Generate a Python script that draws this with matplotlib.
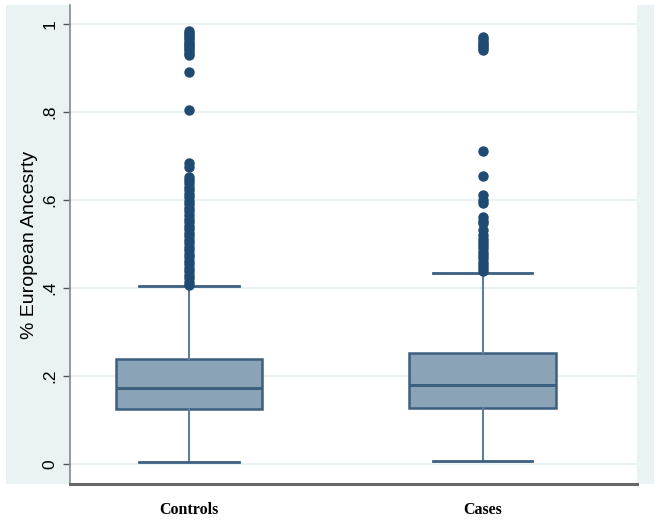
import matplotlib
matplotlib.use("Agg")
import matplotlib.pyplot as plt
from matplotlib.patches import Rectangle

# groups
groups = ["Controls", "Cases"]

# box summaries
q1 = [0.126, 0.127]
med = [0.173, 0.180]
q3 = [0.238, 0.253]
lo_whisk = [0.005, 0.007]
hi_whisk = [0.405, 0.435]

# outside values
fliers_controls = [0.985, 0.98, 0.975, 0.97, 0.965, 0.96, 0.955, 0.95, 0.945,
                   0.94, 0.935, 0.93, 0.89, 0.805, 0.684, 0.676, 0.652, 0.645,
                   0.638, 0.63, 0.622, 0.614, 0.606, 0.598, 0.59, 0.582, 0.574,
                   0.566, 0.558, 0.55, 0.542, 0.534, 0.526, 0.518, 0.51, 0.502,
                   0.494, 0.486, 0.478, 0.47, 0.462, 0.454, 0.446, 0.438, 0.43,
                   0.422, 0.414, 0.408]
fliers_cases = [0.97, 0.965, 0.96, 0.955, 0.95, 0.945, 0.94, 0.712, 0.655,
                0.611, 0.6, 0.593, 0.562, 0.553, 0.547, 0.532, 0.52, 0.512,
                0.505, 0.498, 0.49, 0.482, 0.475, 0.468, 0.46, 0.452, 0.445,
                0.438]
fliers = [fliers_controls, fliers_cases]

yticks = [0, 0.2, 0.4, 0.6, 0.8, 1.0]
ytick_labels = ["0", ".2", ".4", ".6", ".8", "1"]

navy = "#1f4a73"
box_edge = "#3d5f80"
box_fill = "#8ba3b7"
whisk_col = "#5d7e9a"
band = "#eaf2f3"

fig = plt.figure(figsize=(6.62, 5.2), dpi=100)
fig.patch.set_facecolor("white")
# light band behind the plot region (graph region)
fig.patches.append(Rectangle((6 / 662, 36 / 520), 648 / 662, 479 / 520,
                             transform=fig.transFigure, facecolor=band,
                             edgecolor="none", zorder=-5))

ax = fig.add_axes([70 / 662, 36 / 520, 567 / 662, 479 / 520])
ax.set_facecolor("white")

stats = []
for i, g in enumerate(groups):
    stats.append({"label": g, "q1": q1[i], "med": med[i], "q3": q3[i],
                  "whislo": lo_whisk[i], "whishi": hi_whisk[i],
                  "fliers": fliers[i]})

ax.bxp(stats, positions=[1, 2], widths=0.5, patch_artist=True,
       boxprops=dict(facecolor=box_fill, edgecolor=box_edge, linewidth=1.8),
       medianprops=dict(color=box_edge, linewidth=2.2),
       whiskerprops=dict(color=whisk_col, linewidth=1.5),
       capprops=dict(color=box_edge, linewidth=2.0),
       capwidths=0.34,
       flierprops=dict(marker="o", markerfacecolor=navy, markeredgecolor=navy,
                       markersize=6.5, linestyle="none"),
       zorder=3)

ax.set_xlim(0.595, 2.526)
ax.set_ylim(-0.045, 1.043)

ax.set_yticks(yticks)
ax.set_yticklabels(ytick_labels, rotation=90, va="center",
                   fontsize=12.5, family="Liberation Sans")
ax.tick_params(axis="y", length=5, width=1, color="#555555", pad=4)
ax.tick_params(axis="x", length=0, pad=13)
ax.set_xticklabels(groups, fontsize=11.5, fontweight="bold",
                   family="Liberation Serif")

ax.grid(axis="y", color=band, linewidth=1.5, zorder=0)
ax.set_axisbelow(True)

ax.set_ylabel("% European Ancesrty", fontsize=14, family="Liberation Sans",
              labelpad=3)

ax.spines["top"].set_visible(False)
ax.spines["right"].set_visible(False)
ax.spines["left"].set_color("#888888")
ax.spines["left"].set_linewidth(1.2)
ax.spines["bottom"].set_color("#666666")
ax.spines["bottom"].set_linewidth(2.2)

fig.savefig("out.png", dpi=100, facecolor="white")
